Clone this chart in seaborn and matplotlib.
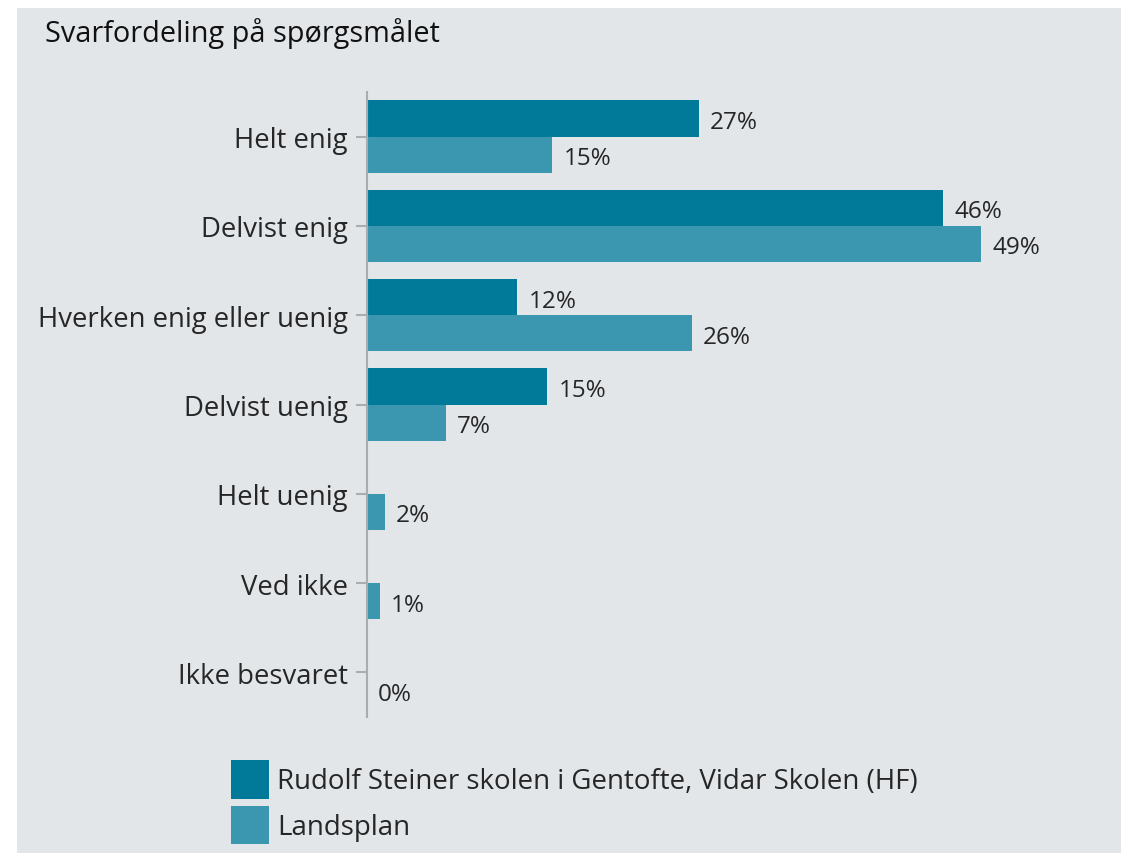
import matplotlib
matplotlib.use("Agg")
import matplotlib.pyplot as plt
import seaborn as sns
import pandas as pd
from matplotlib.patches import Rectangle, Patch

categories = ["Helt enig", "Delvist enig", "Hverken enig eller uenig", "Delvist uenig",
              "Helt uenig", "Ved ikke", "Ikke besvaret"]
series_names = ["Rudolf Steiner skolen i Gentofte, Vidar Skolen (HF)", "Landsplan"]
school_values = [26.5, 46.0, 12.0, 14.4, 0.0, 0.0, 0.0]
national_values = [14.8, 49.0, 25.9, 6.3, 1.4, 1.0, 0.0]
school_labels = ["27%", "46%", "12%", "15%", "", "", ""]
national_labels = ["15%", "49%", "26%", "7%", "2%", "1%", "0%"]
title = "Svarfordeling på spørgsmålet"

colors = ["#017A9A", "#3B97AF"]
bg = "#E2E6E9"
text_color = "#262626"
axis_color = "#A9ADB0"

sns.set_theme(style="white")
plt.rcParams["font.family"] = ["Open Sans", "DejaVu Sans"]

df = pd.DataFrame({
    "category": categories * 2,
    "value": school_values + national_values,
    "series": [series_names[0]] * len(categories) + [series_names[1]] * len(categories),
})

W, H = 1121, 854
fig = plt.figure(figsize=(W / 100, H / 100), dpi=100, facecolor="white")
fig.patches.append(Rectangle((17 / W, 0), 1 - 17 / W, 1 - 9 / H, transform=fig.transFigure,
                             facecolor=bg, edgecolor="none", zorder=-10))

ax = fig.add_axes([367 / W, 1 - 718 / H, (1100 - 367) / W, (718 - 93) / H])
ax.set_facecolor("none")
sns.barplot(data=df, y="category", x="value", hue="series", orient="h",
            palette=colors, width=0.81, gap=0, saturation=1, ax=ax, legend=False,
            errorbar=None, linewidth=0, edgecolor="none")
ax.set_xlim(0, (1100 - 367) / 12.53)
ax.set_ylim(6.5, -0.5)

for cont, labs in zip(ax.containers, [school_labels, national_labels]):
    anns = ax.bar_label(cont, labels=labs, padding=8, fontsize=17.5, color=text_color)
    for a in anns:
        a.xyann = (8, -2.5)

for s in ["top", "right", "bottom"]:
    ax.spines[s].set_visible(False)
ax.spines["left"].set_color(axis_color)
ax.spines["left"].set_linewidth(1.5)
ax.set_xticks([])
ax.set_xlabel("")
ax.set_ylabel("")
ax.tick_params(axis="y", left=True, length=8, width=1.5, color=axis_color,
               labelsize=19.8, labelcolor=text_color, pad=6)

fig.text(45 / W, 1 - 18 / H, title, fontsize=20.8, color="#111111", va="top", ha="left")

handles = [Patch(facecolor=c, edgecolor="none") for c in colors]
fig.legend(handles, series_names, loc="upper left", bbox_to_anchor=(231 / W, 1 - 761 / H),
           frameon=False, fontsize=19.9, handlelength=1.37, handleheight=1.78,
           handletextpad=0.29, labelspacing=0.25, borderpad=0, borderaxespad=0,
           labelcolor=text_color)

fig.savefig("out.png", dpi=100, facecolor="white")
